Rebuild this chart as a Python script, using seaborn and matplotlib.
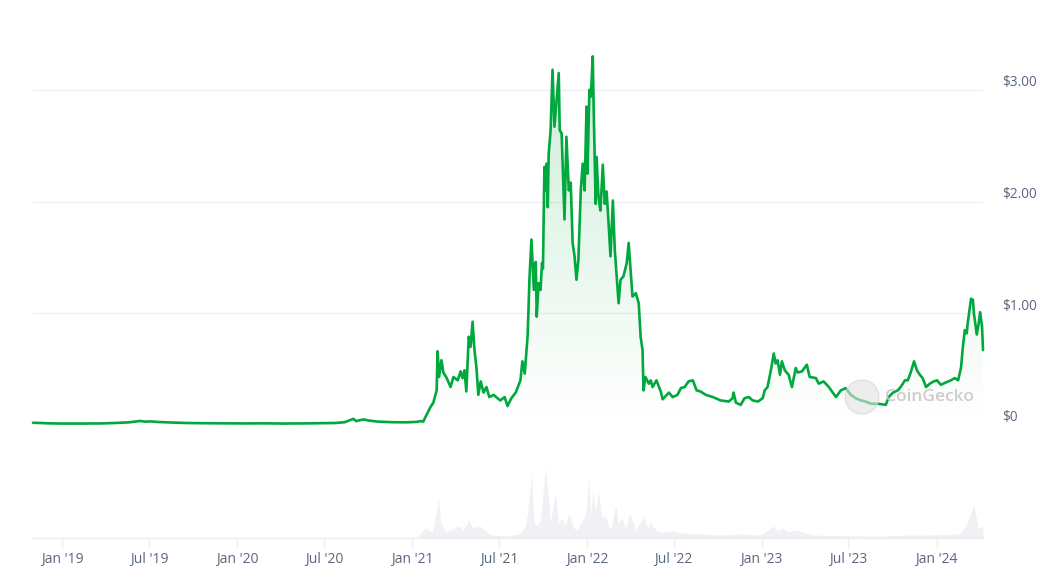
import numpy as np
import pandas as pd
import matplotlib
matplotlib.use("Agg")
import matplotlib.pyplot as plt
import matplotlib.dates as mdates
import matplotlib.transforms as mtransforms
from matplotlib.patches import Circle, PathPatch
import seaborn as sns

# ---------------- data ----------------
# days since 2019-01-01 and price in USD
price_days = [-61, -45, -30, 0, 40, 80, 110, 140, 163, 172, 185, 200, 230, 260, 300, 340,
              380, 420, 460, 500, 540, 570, 590, 608, 614, 629, 640, 660, 690, 720, 740, 750,
              754, 759, 769, 775, 782, 784, 787, 792, 796, 803, 811, 817, 826, 832, 836, 840,
              844, 849, 853, 857, 861, 865, 869, 874, 880, 886, 892, 901, 909, 915, 924, 930,
              938, 947, 957, 961, 966, 972, 976, 980, 985, 989, 991, 995, 999, 1002, 1004, 1007,
              1010, 1012, 1014, 1016, 1020, 1024, 1028, 1032, 1037, 1039, 1043, 1047, 1049, 1053,
              1058, 1062, 1066, 1070, 1074, 1078, 1083, 1087, 1091, 1095, 1097, 1101, 1104, 1108,
              1110, 1114, 1116, 1120, 1124, 1129, 1133, 1137, 1141, 1145, 1150, 1154, 1158, 1162,
              1166, 1172, 1179, 1183, 1187, 1191, 1198, 1204, 1208, 1212, 1214, 1218, 1225, 1229,
              1233, 1241, 1250, 1254, 1267, 1275, 1285, 1292, 1300, 1308, 1317, 1325, 1333, 1344,
              1359, 1375, 1392, 1400, 1402, 1407, 1417, 1425, 1434, 1442, 1453, 1463, 1467, 1473,
              1480, 1486, 1490, 1494, 1499, 1503, 1509, 1517, 1524, 1532, 1536, 1545, 1555, 1561,
              1574, 1580, 1590, 1601, 1616, 1626, 1636, 1647, 1657, 1668, 1678, 1689, 1705, 1720,
              1726, 1735, 1745, 1751, 1760, 1766, 1772, 1779, 1785, 1791, 1797, 1804, 1812, 1820,
              1827, 1835, 1845, 1856, 1864, 1871, 1877, 1881, 1885, 1889, 1891, 1898, 1902, 1904,
              1910, 1914, 1917, 1921, 1923]
price_usd = [0.020, 0.018, 0.015, 0.013, 0.013, 0.014, 0.018, 0.024, 0.036, 0.030, 0.032, 0.027, 0.022, 0.018, 0.016, 0.015,
             0.014, 0.015, 0.013, 0.014, 0.016, 0.018, 0.025, 0.055, 0.035, 0.050, 0.040, 0.030, 0.025, 0.024, 0.028, 0.035,
             0.03, 0.075, 0.16, 0.20, 0.31, 0.66, 0.43, 0.58, 0.47, 0.42, 0.34, 0.43, 0.40, 0.48, 0.42, 0.49,
             0.30, 0.79, 0.70, 0.925, 0.67, 0.52, 0.27, 0.39, 0.29, 0.34, 0.25, 0.27, 0.24, 0.22, 0.25, 0.17,
             0.24, 0.29, 0.40, 0.57, 0.46, 0.80, 1.33, 1.66, 1.21, 1.46, 0.97, 1.27, 1.21, 1.45, 1.40, 2.31,
             2.10, 2.34, 1.95, 2.43, 2.64, 3.18, 2.67, 2.88, 3.15, 2.64, 2.61, 2.10, 1.84, 2.58,
             2.10, 2.17, 1.63, 1.51, 1.30, 1.48, 2.10, 2.34, 2.10, 2.85, 2.25, 3.00, 2.94, 3.30,
             2.82, 1.98, 2.40, 2.04, 1.92, 2.33, 1.98, 2.09, 1.81, 1.51, 2.01, 1.57, 1.33, 1.09,
             1.30, 1.33, 1.45, 1.63, 1.39, 1.15, 1.18, 1.09, 0.79, 0.67, 0.31, 0.43, 0.37, 0.40,
             0.34, 0.40, 0.30, 0.23, 0.29, 0.25, 0.27, 0.33, 0.34, 0.39, 0.40, 0.31, 0.30, 0.27,
             0.25, 0.22, 0.21, 0.24, 0.29, 0.20, 0.18, 0.24, 0.25, 0.22, 0.21, 0.24, 0.31, 0.34,
             0.49, 0.64, 0.55, 0.58, 0.45, 0.57, 0.49, 0.45, 0.34, 0.51, 0.47, 0.48, 0.54, 0.43,
             0.42, 0.37, 0.39, 0.34, 0.25, 0.31, 0.33, 0.27, 0.24, 0.22, 0.21, 0.19, 0.19, 0.18,
             0.25, 0.29, 0.31, 0.34, 0.40, 0.40, 0.47, 0.57, 0.49, 0.45, 0.42, 0.34, 0.37, 0.39,
             0.40, 0.36, 0.38, 0.40, 0.42, 0.40, 0.51, 0.70, 0.85, 0.82, 0.91, 1.13, 1.12, 1.00,
             0.81, 0.91, 1.01, 0.88, 0.67]

# days since 2019-01-01 and 24h volume in billions USD
volume_days = [-61, 300, 600, 700, 740, 759, 773, 786, 790, 800, 828, 838, 849, 857, 872, 895,
               926, 953, 966, 972, 980, 985, 991, 999, 1009, 1020, 1030, 1037, 1043, 1051, 1058, 1068,
               1076, 1085, 1093, 1099, 1104, 1108, 1114, 1120, 1127, 1133, 1145, 1156, 1162, 1168, 1177, 1185,
               1198, 1214, 1223, 1229, 1239, 1252, 1271, 1294, 1333, 1375, 1417, 1459, 1486, 1494, 1503, 1517,
               1534, 1553, 1565, 1626, 1710, 1772, 1814, 1873, 1887, 1904, 1913, 1923]
volume_busd = [0.01, 0.01, 0.02, 0.02, 0.05, 0.50, 0.30, 1.95, 0.80, 0.30, 0.60, 0.40, 0.90, 0.50, 0.60, 0.15,
               0.10, 0.20, 0.50, 1.25, 3.20, 0.80, 0.60, 0.90, 3.55, 0.80, 2.30, 0.70, 1.00, 0.60, 1.25, 0.50,
               0.40, 0.80, 1.15, 3.00, 1.20, 2.30, 1.30, 2.30, 1.00, 1.15, 0.40, 1.65, 0.70, 1.00, 0.50, 1.25,
               0.40, 1.05, 0.50, 0.80, 0.40, 0.30, 0.35, 0.25, 0.20, 0.15, 0.20, 0.15, 0.60, 0.35, 0.50, 0.30,
               0.40, 0.25, 0.15, 0.12, 0.10, 0.15, 0.15, 0.20, 0.60, 1.65, 0.50, 0.60]

xtick_dates = ["2019-01-01", "2019-07-01", "2020-01-01", "2020-07-01", "2021-01-01", "2021-07-01",
               "2022-01-01", "2022-07-01", "2023-01-01", "2023-07-01", "2024-01-01"]
xtick_labels = ["Jan '19", "Jul '19", "Jan '20", "Jul '20", "Jan '21", "Jul '21",
                "Jan '22", "Jul '22", "Jan '23", "Jul '23", "Jan '24"]
ytick_values = [0, 1, 2, 3]
ytick_labels = ["$0", "$1.00", "$2.00", "$3.00"]

# ---------------- build frames ----------------
start = pd.Timestamp("2019-01-01")
price_df = pd.DataFrame({"date": start + pd.to_timedelta(price_days, unit="D"), "price": price_usd})
vol_df = pd.DataFrame({"date": start + pd.to_timedelta(volume_days, unit="D"), "volume": volume_busd})

sns.set_theme(style="white")
plt.rcParams["font.family"] = ["Open Sans", "DejaVu Sans"]

GREEN = "#00a83e"
LABEL = "#58667e"
GRID = "#eef0f3"

W, H = 1062, 577
fig = plt.figure(figsize=(W / 100, H / 100), dpi=100)
fig.patch.set_facecolor("white")
ax = fig.add_axes([33 / W, (H - 425) / H, 950 / W, 391 / H])
axv = fig.add_axes([33 / W, (H - 538) / H, 950 / W, 100 / H], sharex=ax)

xmin = price_df["date"].min()
xmax = price_df["date"].max()

# gradient area under the price line
poly = ax.fill_between(price_df["date"], price_df["price"], 0, color="none", lw=0)
xnum = mdates.date2num(price_df["date"])
ymaxp = max(price_usd)
n = 256
rgba = np.zeros((n, 1, 4))
rgba[..., :3] = matplotlib.colors.to_rgb(GREEN)
rgba[..., 3] = np.linspace(0.20, 0.0, n).reshape(-1, 1)
im = ax.imshow(rgba, aspect="auto", extent=[xnum.min(), xnum.max(), 0, ymaxp],
               origin="upper", zorder=1, interpolation="bilinear")
clip = PathPatch(poly.get_paths()[0], transform=ax.transData, facecolor="none", edgecolor="none")
ax.add_patch(clip)
im.set_clip_path(clip)

sns.lineplot(data=price_df, x="date", y="price", ax=ax, color=GREEN, linewidth=1.9, zorder=3)
ax.lines[-1].set_clip_on(False)
ax.lines[-1].set_solid_joinstyle("round")

ax.set_xlim(xmin, xmax)
ax.set_ylim(0, 3.5)
ax.set_aspect("auto")
ax.set_yticks(ytick_values)
ax.set_yticklabels([])
ax.grid(axis="y", color=GRID, lw=1)
ax.grid(axis="x", visible=False)
ax.set_axisbelow(True)
ax.tick_params(axis="both", length=0, labelbottom=False, labelleft=False)
ax.set_xlabel("")
ax.set_ylabel("")
for s in ax.spines.values():
    s.set_visible(False)

trans = mtransforms.blended_transform_factory(ax.transAxes, ax.transData) + \
    mtransforms.ScaledTranslation(0.19, 0.07, fig.dpi_scale_trans)
for v, lab in zip(ytick_values, ytick_labels):
    ax.text(1.0, v, lab, transform=trans, ha="left", va="center", fontsize=9.8, color=LABEL)

# volume
axv.fill_between(vol_df["date"], vol_df["volume"], 0, color="#eff1f5", lw=0)
axv.set_ylim(0, 5.0)
axv.set_xlim(xmin, xmax)
axv.set_yticks([])
axv.set_xticks(pd.to_datetime(xtick_dates))
axv.set_xticklabels(xtick_labels)
axv.tick_params(axis="x", length=7.2, width=1, color="#eceff2", pad=3, labelsize=10, labelcolor=LABEL,
                bottom=True)
axv.set_xlabel("")
axv.set_ylabel("")
axv.grid(False)
for k, s in axv.spines.items():
    s.set_visible(k == "bottom")
axv.spines["bottom"].set_color("#eceff2")
axv.spines["bottom"].set_linewidth(1)
axv.patch.set_alpha(0)

# watermark
logo = Circle((862 / 100, (H - 397) / 100), 0.17, transform=fig.dpi_scale_trans,
              facecolor="#e2e2e2", edgecolor="#d6d6d6", lw=1, alpha=0.6, zorder=10)
fig.add_artist(logo)
fig.text(885 / W, (H - 397) / H, "CoinGecko", ha="left", va="center", fontsize=12.5,
         color="#c8c8c8", fontweight="semibold", alpha=0.9, zorder=11)

fig.savefig("out.png", dpi=100, facecolor="white")
